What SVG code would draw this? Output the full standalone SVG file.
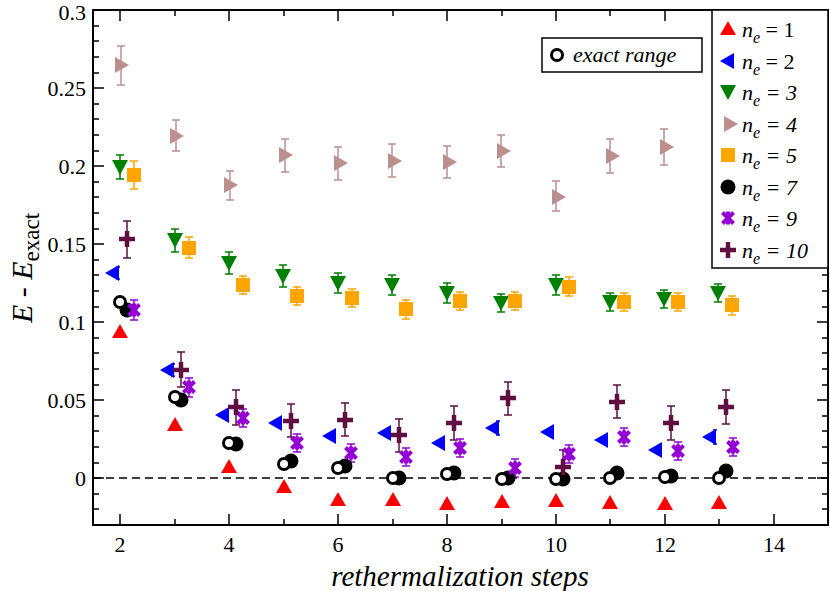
<svg xmlns="http://www.w3.org/2000/svg" width="830" height="591" viewBox="0 0 830 591" font-family="'Liberation Serif','DejaVu Serif',serif">
<style>
.tl{font-size:22px}
.ax{stroke:#000;stroke-width:2;fill:none}
.tk{stroke:#000;stroke-width:1.5}
.eb{stroke-width:1.5;fill:none}
.lg{font-size:22px;font-style:italic}
</style>
<defs>
<path id="m1" d="M0,-8 L8,6 L-8,6Z" fill="#f00"/>
<path id="m2" d="M-8,0 L6,-8 L6,8Z" fill="#00f"/>
<path id="m3" d="M-8,-7 L8,-7 L0,8Z" fill="#008000"/>
<path id="m4" d="M8,0 L-6,-8 L-6,8Z" fill="#bc8f8f"/>
<rect id="m5" x="-7" y="-7" width="14" height="14" fill="#ffa500"/>
<circle id="m7" r="7.5" fill="#000"/>
<circle id="mo" r="5.5" fill="#fff" stroke="#000" stroke-width="3"/>
<path id="m9" d="M-5.5,-5.5 L5.5,5.5 M-5.5,5.5 L5.5,-5.5 M0,-6.5 L0,6.5" stroke="#9400d3" stroke-width="4" fill="none"/>
<path id="m10" d="M-8,0 L8,0 M0,-8 L0,8" stroke="#5f0f40" stroke-width="4.5" fill="none"/>
</defs>
<rect width="830" height="591" fill="#fff"/>
<g id="axes">
<line x1="93" y1="478" x2="828" y2="478" stroke="#000" stroke-width="1.5" stroke-dasharray="8,5"/>
<rect class="ax" x="93" y="10" width="735" height="515"/>
<path class="tk" d="M120,525v-11M229,525v-11M338,525v-11M447,525v-11M556,525v-11M665,525v-11M774,525v-11M175,525v-6M284,525v-6M393,525v-6M502,525v-6M610,525v-6M719,525v-6M120,10v11M229,10v11M338,10v11M447,10v11M556,10v11M665,10v11M774,10v11M175,10v6M284,10v6M393,10v6M502,10v6M610,10v6M719,10v6"/>
<path class="tk" d="M93,478h11M93,400h11M93,322h11M93,244h11M93,166h11M93,88h11M93,10h11M93,509h6M93,494h6M93,463h6M93,447h6M93,431h6M93,416h6M93,385h6M93,369h6M93,353h6M93,338h6M93,307h6M93,291h6M93,275h6M93,260h6M93,229h6M93,213h6M93,197h6M93,182h6M93,151h6M93,135h6M93,119h6M93,104h6M93,73h6M93,57h6M93,41h6M93,26h6"/>
<path class="tk" d="M828,478h-11M828,400h-11M828,322h-11M828,509h-6M828,494h-6M828,463h-6M828,447h-6M828,431h-6M828,416h-6M828,385h-6M828,369h-6M828,353h-6M828,338h-6M828,307h-6M828,291h-6M828,275h-6"/>
<g class="tl" text-anchor="middle">
<text x="120" y="552">2</text><text x="229" y="552">4</text><text x="338" y="552">6</text><text x="447" y="552">8</text><text x="556" y="552">10</text><text x="665" y="552">12</text><text x="774" y="552">14</text>
</g>
<g class="tl" text-anchor="end">
<text x="86" y="486">0</text><text x="86" y="408">0.05</text><text x="86" y="330">0.1</text><text x="86" y="252">0.15</text><text x="86" y="174">0.2</text><text x="86" y="96">0.25</text><text x="86" y="20">0.3</text>
</g>
<text x="460" y="586" text-anchor="middle" font-size="29" font-style="italic">rethermalization steps</text>
<text transform="translate(32,268) rotate(-90)" text-anchor="middle" font-size="30"><tspan font-style="italic">E</tspan> - <tspan font-style="italic">E</tspan><tspan font-size="23" dy="7">exact</tspan></text>
</g>
<g id="connectors"></g>
<g id="series-errorbars" class="eb">
<path stroke="#bc8f8f" d="M121,46v39M117,46h8M117,85h8M176,120v31M172,120h8M172,151h8M230,171v29M226,171h8M226,200h8M285,139v33M281,139h8M281,172h8M338,147v33M334,147h8M334,180h8M392,144v33M388,144h8M388,177h8M447,146v32M443,146h8M443,178h8M501,135v32M497,135h8M497,167h8M556,181v30M552,181h8M552,211h8M610,139v34M606,139h8M606,173h8M664,129v36M660,129h8M660,165h8"/>
<path stroke="#008000" d="M120,155v24M116,155h8M116,179h8M175,229v23M171,229h8M171,252h8M229,252v22M225,252h8M225,274h8M283,265v22M279,265h8M279,287h8M338,273v20M334,273h8M334,293h8M392,275v20M388,275h8M388,295h8M447,283v20M443,283h8M443,303h8M501,294v18M497,294h8M497,312h8M556,275v20M552,275h8M552,295h8M610,293v18M606,293h8M606,311h8M664,290v18M660,290h8M660,308h8M718,284v18M714,284h8M714,302h8"/>
<path stroke="#ffa500" d="M134,161v28M130,161h8M130,189h8M189,237v21M185,237h8M185,258h8M243,276v18M239,276h8M239,294h8M297,287v18M293,287h8M293,305h8M352,289v18M348,289h8M348,307h8M406,300v19M402,300h8M402,319h8M460,292v18M456,292h8M456,310h8M515,292v18M511,292h8M511,310h8M569,277v19M565,277h8M565,296h8M624,293v18M620,293h8M620,311h8M678,293v18M674,293h8M674,311h8M732,296v19M728,296h8M728,315h8"/>
<path stroke="#5f0f40" d="M127,221v37M123,221h8M123,258h8M181,352v35M177,352h8M177,387h8M236,390v35M232,390h8M232,425h8M291,404v33M287,404h8M287,437h8M345,403v33M341,403h8M341,436h8M399,419v33M395,419h8M395,452h8M454,406v34M450,406h8M450,440h8M508,382v33M504,382h8M504,415h8M563,450v33M559,450h8M559,483h8M617,385v33M613,385h8M613,418h8M671,406v34M667,406h8M667,440h8M726,390v34M722,390h8M722,424h8"/>
<path stroke="#9400d3" d="M134,300v20M130,300h8M130,320h8M189,378v19M185,378h8M185,397h8M243,409v18M239,409h8M239,427h8M297,434v18M293,434h8M293,452h8M351,444v18M347,444h8M347,462h8M406,448v18M402,448h8M402,466h8M460,439v18M456,439h8M456,457h8M515,459v18M511,459h8M511,477h8M569,445v18M565,445h8M565,463h8M624,428v18M620,428h8M620,446h8M678,442v18M674,442h8M674,460h8M733,438v18M729,438h8M729,456h8"/>
<path stroke="#00f" d="M118,267v12M120,267h-4M120,279h-4M173,364v12M175,364h-4M175,376h-4M498,421v14M500,421h-4M500,435h-4M715,430v14M717,430h-4M717,444h-4"/>
</g>
<g id="ne1"><use href="#m1" x="120" y="332"/><use href="#m1" x="175" y="425"/><use href="#m1" x="229" y="467"/><use href="#m1" x="284" y="487"/><use href="#m1" x="338" y="500"/><use href="#m1" x="393" y="500"/><use href="#m1" x="447" y="504"/><use href="#m1" x="502" y="502"/><use href="#m1" x="556" y="501"/><use href="#m1" x="610" y="503"/><use href="#m1" x="665" y="504"/><use href="#m1" x="719" y="503"/></g>
<g id="ne2"><use href="#m2" x="113" y="273"/><use href="#m2" x="168" y="370"/><use href="#m2" x="223" y="415"/><use href="#m2" x="276" y="423"/><use href="#m2" x="330" y="436"/><use href="#m2" x="385" y="433"/><use href="#m2" x="439" y="443"/><use href="#m2" x="493" y="428"/><use href="#m2" x="548" y="432"/><use href="#m2" x="602" y="440"/><use href="#m2" x="656" y="450"/><use href="#m2" x="710" y="437"/></g>
<g id="ne3"><use href="#m3" x="120" y="167"/><use href="#m3" x="175" y="240"/><use href="#m3" x="229" y="263"/><use href="#m3" x="283" y="276"/><use href="#m3" x="338" y="283"/><use href="#m3" x="392" y="285"/><use href="#m3" x="447" y="293"/><use href="#m3" x="501" y="303"/><use href="#m3" x="556" y="285"/><use href="#m3" x="610" y="302"/><use href="#m3" x="664" y="299"/><use href="#m3" x="718" y="293"/></g>
<g id="ne4"><use href="#m4" x="121" y="65"/><use href="#m4" x="176" y="136"/><use href="#m4" x="230" y="185"/><use href="#m4" x="285" y="155"/><use href="#m4" x="340" y="163"/><use href="#m4" x="394" y="161"/><use href="#m4" x="449" y="162"/><use href="#m4" x="503" y="151"/><use href="#m4" x="558" y="197"/><use href="#m4" x="612" y="156"/><use href="#m4" x="666" y="147"/></g>
<g id="ne5"><use href="#m5" x="134" y="175"/><use href="#m5" x="189" y="248"/><use href="#m5" x="243" y="285"/><use href="#m5" x="297" y="296"/><use href="#m5" x="352" y="298"/><use href="#m5" x="406" y="309"/><use href="#m5" x="460" y="301"/><use href="#m5" x="515" y="301"/><use href="#m5" x="569" y="287"/><use href="#m5" x="624" y="302"/><use href="#m5" x="678" y="302"/><use href="#m5" x="732" y="305"/></g>
<g id="ne7"><use href="#m7" x="127" y="310"/><use href="#m7" x="181" y="400"/><use href="#m7" x="236" y="444"/><use href="#m7" x="291" y="461"/><use href="#m7" x="345" y="466"/><use href="#m7" x="399" y="478"/><use href="#m7" x="454" y="473"/><use href="#m7" x="508" y="478"/><use href="#m7" x="563" y="479"/><use href="#m7" x="617" y="473"/><use href="#m7" x="671" y="476"/><use href="#m7" x="726" y="471"/></g>
<g id="exact"><use href="#mo" x="120" y="302"/><use href="#mo" x="175" y="397"/><use href="#mo" x="229" y="443"/><use href="#mo" x="284" y="464"/><use href="#mo" x="338" y="468"/><use href="#mo" x="393" y="478"/><use href="#mo" x="447" y="474"/><use href="#mo" x="502" y="479"/><use href="#mo" x="556" y="479"/><use href="#mo" x="610" y="478"/><use href="#mo" x="665" y="477"/><use href="#mo" x="719" y="478"/></g>
<g id="ne9"><use href="#m9" x="134" y="310"/><use href="#m9" x="189" y="387"/><use href="#m9" x="243" y="418"/><use href="#m9" x="297" y="443"/><use href="#m9" x="351" y="453"/><use href="#m9" x="406" y="457"/><use href="#m9" x="460" y="448"/><use href="#m9" x="515" y="468"/><use href="#m9" x="569" y="454"/><use href="#m9" x="624" y="437"/><use href="#m9" x="678" y="451"/><use href="#m9" x="733" y="447"/></g>
<g id="ne10"><use href="#m10" x="127" y="239"/><use href="#m10" x="181" y="370"/><use href="#m10" x="236" y="407"/><use href="#m10" x="291" y="421"/><use href="#m10" x="345" y="420"/><use href="#m10" x="399" y="435"/><use href="#m10" x="454" y="423"/><use href="#m10" x="508" y="398"/><use href="#m10" x="563" y="467"/><use href="#m10" x="617" y="402"/><use href="#m10" x="671" y="423"/><use href="#m10" x="726" y="407"/></g>
<g id="exact-legend">
<rect x="542" y="38" width="160" height="34" fill="#fff" stroke="#000" stroke-width="1.5"/>
<use href="#mo" x="557" y="55"/>
<text x="573" y="62" class="lg">exact range</text>
</g>
<g id="legend">
<rect x="712" y="10" width="116" height="258" fill="#fff" stroke="#000" stroke-width="1.5"/>
<use href="#m1" x="728" y="29"/><use href="#m2" x="728" y="61"/><use href="#m3" x="728" y="92"/><use href="#m4" x="730" y="124"/><use href="#m5" x="728" y="155"/><use href="#m7" x="728" y="187"/><use href="#m9" x="728" y="218"/><use href="#m10" x="728" y="250"/>
<g class="lg">
<text x="742" y="37">n<tspan font-size="16" dy="6">e</tspan><tspan dy="-6" font-style="normal"> = 1</tspan></text>
<text x="742" y="69">n<tspan font-size="16" dy="6">e</tspan><tspan dy="-6" font-style="normal"> = 2</tspan></text>
<text x="742" y="100">n<tspan font-size="16" dy="6">e</tspan><tspan dy="-6"> = 3</tspan></text>
<text x="742" y="132">n<tspan font-size="16" dy="6">e</tspan><tspan dy="-6"> = 4</tspan></text>
<text x="742" y="163">n<tspan font-size="16" dy="6">e</tspan><tspan dy="-6"> = 5</tspan></text>
<text x="742" y="195">n<tspan font-size="16" dy="6">e</tspan><tspan dy="-6"> = 7</tspan></text>
<text x="742" y="226">n<tspan font-size="16" dy="6">e</tspan><tspan dy="-6"> = 9</tspan></text>
<text x="742" y="258">n<tspan font-size="16" dy="6">e</tspan><tspan dy="-6"> = 10</tspan></text>
</g>
</g>
</svg>
